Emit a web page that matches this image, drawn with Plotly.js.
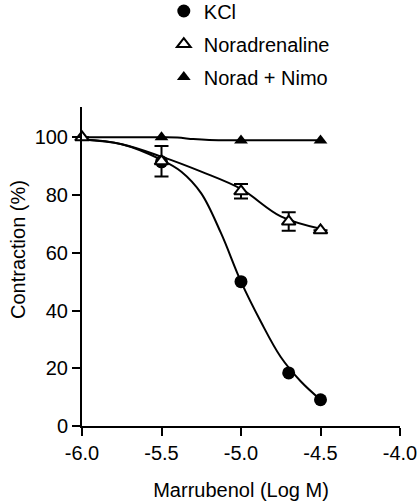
<!DOCTYPE html>
<html>
<head>
<meta charset="utf-8">
<script src="https://cdn.plot.ly/plotly-3.0.1.min.js"></script>
<style>html,body{margin:0;padding:0;background:#fff;}#chart{width:420px;height:502px;}</style>
</head>
<body>
<div id="chart"></div>
<script>
// Measured points
const kclX = [-5.5, -5.0, -4.7, -4.5];
const kclY = [91.5, 50.0, 18.4, 9.1];

const noraX = [-6.0, -5.5, -5.0, -4.7, -4.5];
const noraY = [100.0, 91.7, 81.3, 70.8, 67.8];
const noraErr = [0, 5.3, 2.5, 3.2, 0];

const nimoX = [-5.5, -5.0, -4.5];
const nimoY = [100.0, 98.9, 98.9];

// Fitted curves
const kclFitX = [-6.0, -5.75, -5.5, -5.375, -5.25, -5.125, -5.0, -4.875, -4.75, -4.625, -4.5];
const kclFitY = [99.2, 97.6, 92.2, 88.1, 80.6, 66.7, 50.0, 36.1, 23.9, 15.5, 9.1];

const noraFitX = [-6.0, -5.75, -5.5, -5.25, -5.0, -4.75, -4.5];
const noraFitY = [99.2, 97.6, 93.3, 88.1, 82.1, 72.6, 68.3];

const nimoFitX = [-6.0, -5.5, -5.4, -5.3, -5.2, -5.0, -4.5];
const nimoFitY = [100.0, 100.0, 99.9, 99.4, 99.1, 99.0, 99.0];

const xTicks = [-6.0, -5.5, -5.0, -4.5, -4.0];
const xTickText = ['-6.0', '-5.5', '-5.0', '-4.5', '-4.0'];
const yTicks = [0, 20, 40, 60, 80, 100];

const xTitle = 'Marrubenol (Log M)';
const yTitle = 'Contraction (%)';

const FONT = 'Liberation Sans, Arial, Helvetica, sans-serif';
const lineStyle = {color: '#000', width: 2, shape: 'spline', smoothing: 1};

const traces = [
  {x: kclFitX, y: kclFitY, mode: 'lines', line: lineStyle, showlegend: false, hoverinfo: 'skip'},
  {x: noraFitX, y: noraFitY, mode: 'lines', line: lineStyle, showlegend: false, hoverinfo: 'skip'},
  {x: nimoFitX, y: nimoFitY, mode: 'lines', line: lineStyle, showlegend: false, hoverinfo: 'skip'},
  {x: kclX, y: kclY, mode: 'markers', name: 'KCl', legendgroup: 'a', legendrank: 1, cliponaxis: false,
   marker: {symbol: 'circle', size: 13, color: '#000'}},
  {x: nimoX, y: nimoY, mode: 'markers', name: 'Norad + Nimo', legendgroup: 'c', legendrank: 3, cliponaxis: false,
   marker: {symbol: 'triangle-up', size: 12, color: '#000'}},
  {x: noraX, y: noraY, mode: 'markers', name: 'Noradrenaline', legendgroup: 'b', legendrank: 2, cliponaxis: false,
   marker: {symbol: 'triangle-up', size: 12, color: '#fff', line: {color: '#000', width: 2}},
   error_y: {type: 'data', array: noraErr, visible: true, color: '#000', thickness: 2, width: 7}}
];

const layout = {
  width: 420, height: 502,
  margin: {l: 82, r: 20, t: 107, b: 76, autoexpand: false},
  paper_bgcolor: '#fff', plot_bgcolor: '#fff',
  font: {family: FONT, size: 20, color: '#000'},
  showlegend: true,
  legend: {
    xref: 'container', yref: 'paper',
    x: 0.39, y: 1.362, xanchor: 'left', yanchor: 'top',
    bgcolor: 'rgba(0,0,0,0)', font: {family: FONT, size: 20, color: '#000'},
    tracegroupgap: 4, traceorder: 'grouped'
  },
  xaxis: {
    range: [-6, -4], tickvals: xTicks, ticktext: xTickText,
    showline: true, linecolor: '#000', linewidth: 2,
    ticks: 'outside', ticklen: 8, tickwidth: 2, tickcolor: '#000',
    showgrid: false, zeroline: false, tickangle: 0,
    tickfont: {family: FONT, size: 20, color: '#000'},
    title: {text: xTitle, font: {family: FONT, size: 20, color: '#000'}}
  },
  yaxis: {
    range: [0, 110.5], tickvals: yTicks,
    showline: true, linecolor: '#000', linewidth: 2,
    ticks: 'outside', ticklen: 8, tickwidth: 2, tickcolor: '#000',
    showgrid: false, zeroline: false,
    tickfont: {family: FONT, size: 20, color: '#000'}
  },
  annotations: [{
    text: yTitle, xref: 'paper', yref: 'paper',
    x: -0.201, y: 0.552, xanchor: 'center', yanchor: 'middle',
    textangle: -90, showarrow: false,
    font: {family: FONT, size: 20, color: '#000'}
  }]
};

Plotly.newPlot('chart', traces, layout, {displayModeBar: false, staticPlot: true});
</script>
</body>
</html>
